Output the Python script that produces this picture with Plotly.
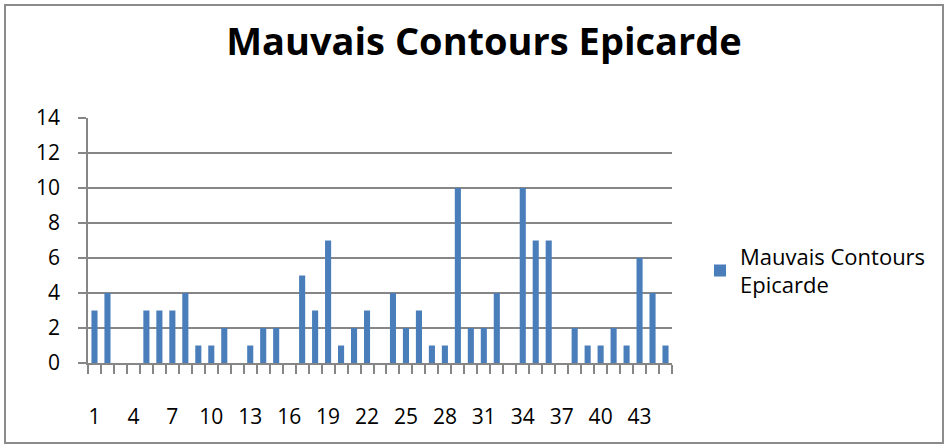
import plotly.graph_objects as go

# Number of poor epicardial contours per case
cases = list(range(1, 46))
counts = [3, 4, 0, 0, 3, 3, 3, 4, 1, 1, 2, 0, 1, 2, 2, 0, 5, 3, 7, 1,
          2, 3, 0, 4, 2, 3, 1, 1, 10, 2, 2, 4, 0, 10, 7, 7, 0, 2, 1, 1,
          2, 1, 6, 4, 1]
series_name = "Mauvais Contours Epicarde"
title_text = "Mauvais Contours Epicarde"
x_label_vals = list(range(1, 46, 3))
y_ticks = list(range(0, 15, 2))

FONT = "Open Sans, Lato, sans-serif"
GRID = "#868686"

W, H = 948, 448
L, R, T, B = 88, 276, 118, 85
pw, ph = W - L - R, H - T - B

def px_to_paper_x(px):
    return (px - L) / pw

def px_to_paper_y(py):
    return (H - B - py) / ph

fig = go.Figure()
fig.add_trace(go.Bar(
    x=cases, y=counts, name=series_name.replace("Contours ", "Contours<br>"),
    marker=dict(color="#4A7EBB", line=dict(width=0)),
    width=0.47, showlegend=True,
))

fig.update_layout(
    width=W, height=H,
    margin=dict(l=L, r=R, t=T, b=B, pad=0),
    paper_bgcolor="white", plot_bgcolor="white",
    font=dict(family=FONT, size=21, color="black"),
    title=dict(text="<b>" + title_text + "</b>", x=484 / W,
               xanchor="center", y=1 - 42 / H, yanchor="middle",
               font=dict(family=FONT, size=38, color="black")),
    showlegend=True,
    legend=dict(x=px_to_paper_x(700), y=px_to_paper_y(271), xanchor="left", yanchor="middle",
                font=dict(family=FONT, size=22, color="black"),
                bgcolor="rgba(0,0,0,0)", itemwidth=30, traceorder="normal"),
    bargap=0.53,
)

fig.update_xaxes(
    range=[0.5, 45.5], tickmode="array", tickvals=x_label_vals,
    ticktext=[str(v) for v in x_label_vals],
    ticks="", showgrid=False, zeroline=False,
    showline=True, linecolor=GRID, linewidth=1.5,
    ticklabelstandoff=34,
    minor=dict(tick0=0.5, dtick=1, ticks="outside", ticklen=9, tickcolor=GRID,
               tickwidth=1.5, showgrid=False),
    tickfont=dict(family=FONT, size=21, color="black"),
)
fig.update_yaxes(
    range=[0, 14], tickmode="array", tickvals=y_ticks,
    showgrid=True, gridcolor=GRID, gridwidth=1.5, zeroline=False,
    showline=True, linecolor=GRID, linewidth=1.5,
    ticks="outside", ticklen=8, tickcolor=GRID, tickwidth=1.5,
    ticklabelstandoff=14,
    tickfont=dict(family=FONT, size=21, color="black"),
)

# Outer chart frame
fig.add_shape(type="rect", xref="paper", yref="paper",
              x0=px_to_paper_x(5), x1=px_to_paper_x(943),
              y0=px_to_paper_y(443), y1=px_to_paper_y(5),
              line=dict(color="#8C8C8C", width=2), fillcolor="rgba(0,0,0,0)", layer="below")

fig.write_html("out.html")
